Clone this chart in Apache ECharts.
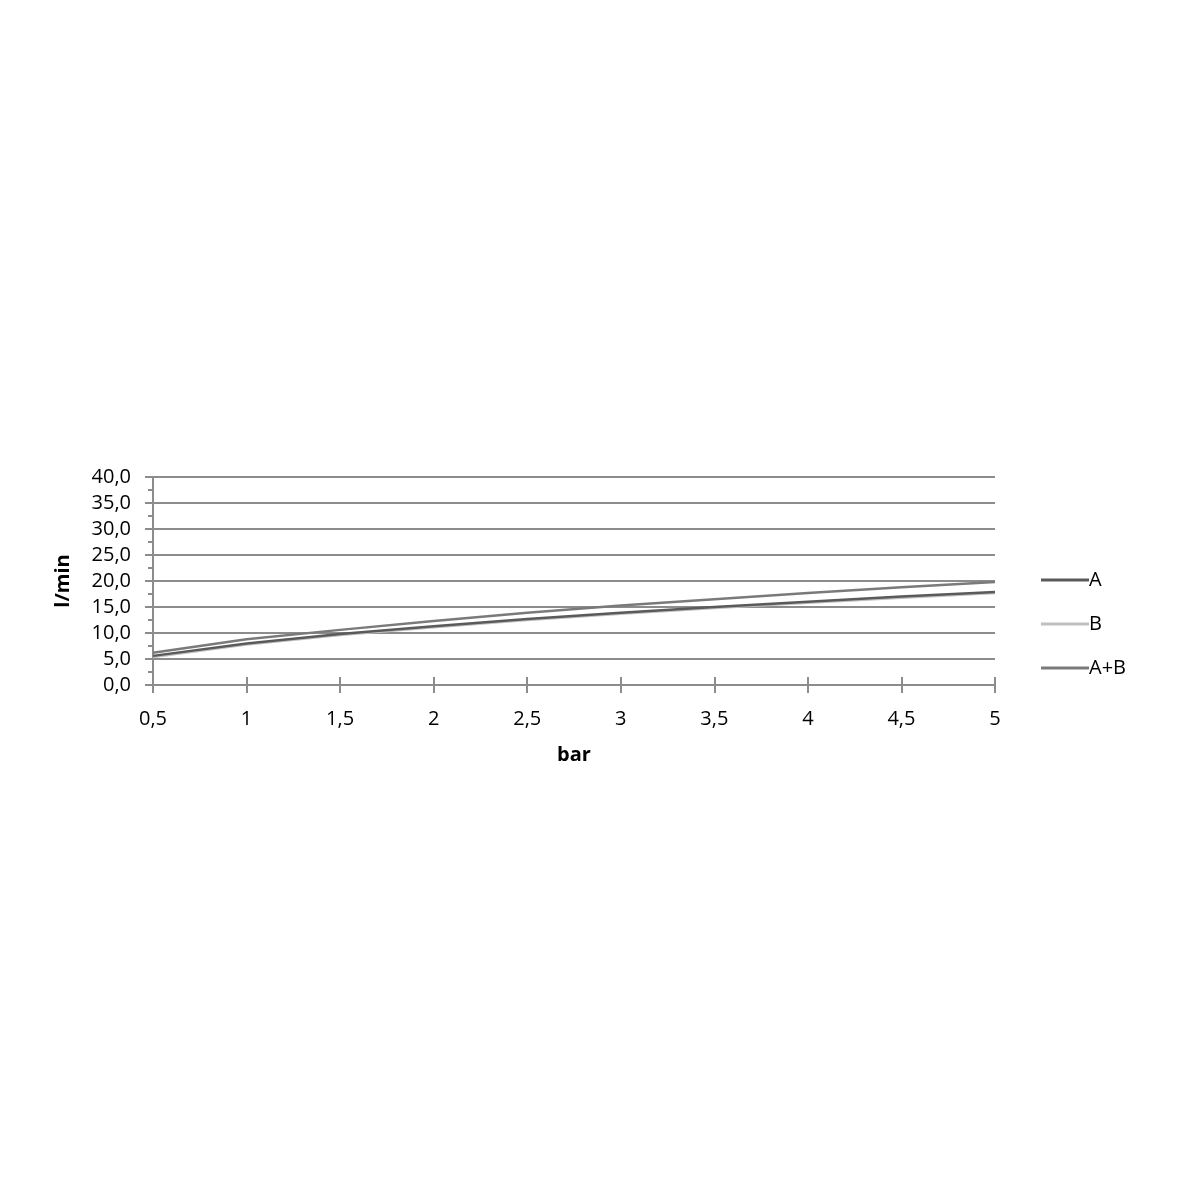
<!DOCTYPE html>
<html><head><meta charset="utf-8">
<script src="https://cdn.jsdelivr.net/npm/echarts@6/dist/echarts.min.js"></script>
<style>html,body{margin:0;padding:0;background:#fff}#c{width:1185px;height:1185px}</style>
</head><body><div id="c"></div>
<script>
const categories = ['0,5','1','1,5','2','2,5','3','3,5','4','4,5','5'];
const seriesA = [5.6, 8.0, 9.8, 11.3, 12.7, 13.9, 15.0, 16.0, 17.0, 17.9];
const seriesB = [5.4, 7.8, 9.6, 11.1, 12.5, 13.7, 14.8, 15.8, 16.8, 17.7];
const seriesAB = [6.2, 8.8, 10.6, 12.3, 13.9, 15.3, 16.5, 17.7, 18.8, 19.8];
const yTicks = [0, 5, 10, 15, 20, 25, 30, 35, 40];

const font = '"Open Sans", "Liberation Sans", sans-serif';
const axisGray = '#8c8c8c';
const chart = echarts.init(document.getElementById('c'));
chart.setOption({
  animation: false,
  textStyle: { fontFamily: font },
  grid: { left: 153, right: 190, top: 477, bottom: 500, containLabel: false },
  legend: {
    orient: 'vertical', left: 1036, top: 563,
    itemWidth: 48, itemHeight: 3, itemGap: 20,
    icon: 'rect',
    textStyle: { fontSize: 20, lineHeight: 24, color: '#000', fontFamily: font, padding: [0,0,0,-5] },
    data: ['A', 'B', 'A+B']
  },
  xAxis: [{
    type: 'category', data: categories, boundaryGap: false,
    name: 'bar', nameLocation: 'middle', nameGap: 60,
    nameTextStyle: { fontSize: 20, fontWeight: 'bold', color: '#000', fontFamily: font },
    axisLine: { lineStyle: { color: axisGray, width: 2 } },
    axisTick: { show: true, length: 8, lineStyle: { color: axisGray, width: 2 } },
    axisLabel: { fontSize: 20, color: '#000', margin: 24, fontFamily: font, interval: 0 },
    splitLine: { show: false }
  }, {
    type: 'category', data: categories, boundaryGap: false, position: 'bottom',
    axisLine: { show: false },
    axisTick: { show: true, inside: true, length: 8, lineStyle: { color: axisGray, width: 2 } },
    axisLabel: { show: false }, splitLine: { show: false }
  }],
  yAxis: {
    type: 'value', min: 0, max: 40, interval: 5,
    name: 'l/min', nameLocation: 'middle', nameGap: 80, nameRotate: 90,
    nameTextStyle: { fontSize: 20, fontWeight: 'bold', color: '#000', fontFamily: font },
    axisLine: { show: true, lineStyle: { color: axisGray, width: 2 } },
    axisTick: { show: true, length: 8, lineStyle: { color: axisGray, width: 2 } },
    minorTick: { show: true, splitNumber: 2, length: 5, lineStyle: { color: axisGray, width: 2 } },
    axisLabel: { fontSize: 20, color: '#000', margin: 22, fontFamily: font,
      formatter: v => yTicks.includes(v) ? v.toFixed(1).replace('.', ',') : '' },
    splitLine: { show: true, lineStyle: { color: axisGray, width: 2 } }
  },
  series: [
    { name: 'A', type: 'line', data: seriesA, symbol: 'none', lineStyle: { color: '#5a5a5a', width: 2.5 }, itemStyle: { color: '#5a5a5a' } },
    { name: 'B', type: 'line', data: seriesB, symbol: 'none', lineStyle: { color: '#c0c0c0', width: 2.5 }, itemStyle: { color: '#c0c0c0' }, z: 1 },
    { name: 'A+B', type: 'line', data: seriesAB, symbol: 'none', lineStyle: { color: '#7a7a7a', width: 2.5 }, itemStyle: { color: '#7a7a7a' } }
  ]
});
</script></body></html>
